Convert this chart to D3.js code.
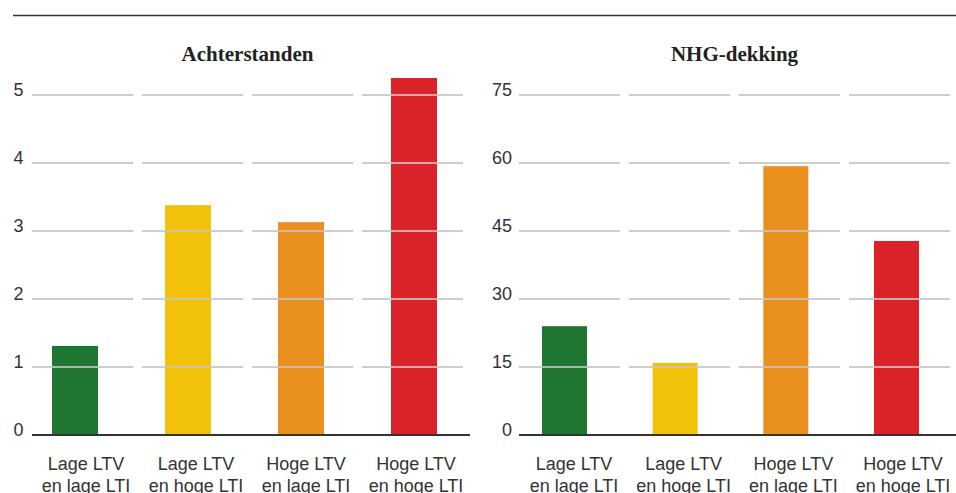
<!DOCTYPE html>
<html>
<head>
<meta charset="utf-8">
<script src="https://cdn.jsdelivr.net/npm/d3@7"></script>
<style>
  html, body { margin: 0; padding: 0; background: #fff; }
  svg { display: block; }
</style>
</head>
<body>
<svg id="chart"></svg>
<script>
// ── DATA ────────────────────────────────────────────────────
const categories = [
  ['Lage LTV', 'en lage LTI'],
  ['Lage LTV', 'en hoge LTI'],
  ['Hoge LTV', 'en lage LTI'],
  ['Hoge LTV', 'en hoge LTI']
];
const achterstanden = [1.31, 3.38, 3.13, 5.25];
const nhgDekking = [24.0, 15.9, 59.3, 42.8];
const ticksLeft = [0, 1, 2, 3, 4, 5];
const ticksRight = [0, 15, 30, 45, 60, 75];
const barColors = ['#1f7631', '#f2c20b', '#ea901f', '#dc2229'];

// ── CONFIG ──────────────────────────────────────────────────
const W = 956, H = 493;
const Y0 = 435, YTOP = 95;

const svg = d3.select('#chart').attr('width', W).attr('height', H);

// top rule
svg.append('line')
  .attr('x1', 13).attr('x2', W).attr('y1', 15.5).attr('y2', 15.5)
  .attr('stroke', '#333').attr('stroke-width', 1.3);

const panels = [
  { title: 'Achterstanden', values: achterstanden, ticks: ticksLeft, max: 5,
    tickX: 23.5, grid: [32, 463], base: [32, 470],
    bars: [75, 414], barW: 46, labels: [86, 416] },
  { title: 'NHG-dekking', values: nhgDekking, ticks: ticksRight, max: 75,
    tickX: 512, grid: [519, 950], base: [519, 956],
    bars: [564.5, 896.5], barW: 45, labels: [574, 903] }
];

const idx = categories.map((d, i) => i);

panels.forEach(p => {
  const g = svg.append('g');

  const y = d3.scaleLinear().domain([0, p.max]).range([Y0, YTOP]);
  const xGrid = d3.scaleBand().domain(idx).range(p.grid).paddingInner(0.0818);
  const xBar = d3.scalePoint().domain(idx).range(p.bars);
  const xLab = d3.scalePoint().domain(idx).range(p.labels);

  // title
  g.append('text')
    .attr('x', (p.grid[0] + p.grid[1]) / 2)
    .attr('y', 61)
    .attr('text-anchor', 'middle')
    .attr('font-family', '"Liberation Serif", "DejaVu Serif", serif')
    .attr('font-weight', 'bold')
    .attr('font-size', 21)
    .attr('fill', '#222')
    .text(p.title);

  // bars
  g.selectAll('rect.bar')
    .data(p.values)
    .join('rect')
    .attr('class', 'bar')
    .attr('x', (d, i) => xBar(i) - p.barW / 2)
    .attr('width', p.barW)
    .attr('y', d => y(d))
    .attr('height', d => Y0 - y(d))
    .attr('fill', (d, i) => barColors[i]);

  // gridlines, one segment per category, drawn over the bars
  p.ticks.filter(t => t > 0).forEach(t => {
    g.selectAll(null)
      .data(idx)
      .join('line')
      .attr('x1', i => xGrid(i))
      .attr('x2', i => xGrid(i) + xGrid.bandwidth())
      .attr('y1', y(t)).attr('y2', y(t))
      .attr('stroke', '#c6c6c6')
      .attr('stroke-opacity', 0.85)
      .attr('stroke-width', 1.8);
  });

  // baseline
  g.append('line')
    .attr('x1', p.base[0]).attr('x2', p.base[1])
    .attr('y1', Y0).attr('y2', Y0)
    .attr('stroke', '#333').attr('stroke-width', 2);

  // y tick labels
  g.selectAll('text.tick')
    .data(p.ticks)
    .join('text')
    .attr('class', 'tick')
    .attr('x', p.tickX)
    .attr('y', t => y(t) + 1)
    .attr('text-anchor', 'end')
    .attr('font-family', '"Liberation Sans", Arial, sans-serif')
    .attr('font-size', 18)
    .attr('fill', '#333')
    .text(t => t);

  // category labels
  const lab = g.selectAll('text.cat')
    .data(categories)
    .join('text')
    .attr('class', 'cat')
    .attr('text-anchor', 'middle')
    .attr('font-family', '"Liberation Sans", Arial, sans-serif')
    .attr('font-size', 18)
    .attr('fill', '#333');
  lab.each(function(lines, i) {
    d3.select(this).selectAll('tspan')
      .data(lines)
      .join('tspan')
      .attr('x', xLab(i))
      .attr('y', (l, j) => 469.5 + j * 22)
      .text(l => l);
  });
});
</script>
</body>
</html>
